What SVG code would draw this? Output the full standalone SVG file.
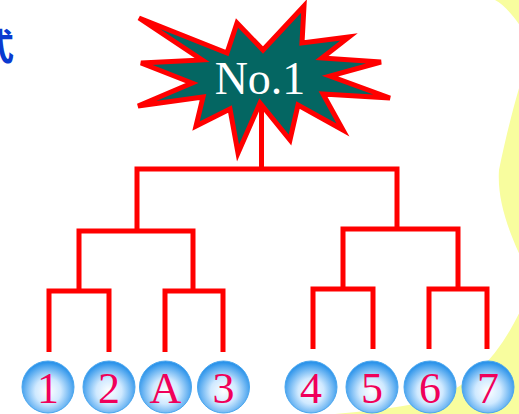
<svg xmlns="http://www.w3.org/2000/svg" width="519" height="414" viewBox="0 0 519 414">
<defs>
<radialGradient id="ball" cx="50%" cy="58%" r="55%">
<stop offset="0" stop-color="#ffffff"/>
<stop offset="0.45" stop-color="#cfe9ff"/>
<stop offset="1" stop-color="#2b93ea"/>
</radialGradient>
<style>
.wire{fill:none;stroke:#ff0000;stroke-width:5;stroke-linejoin:miter;stroke-linecap:butt}
.ball{fill:url(#ball);stroke:#4aa6ee;stroke-width:1}
.lbl{font-family:"Liberation Serif","Times New Roman",serif;font-size:44px;fill:#f0005a;text-anchor:middle}
</style>
</defs>
<rect x="0" y="0" width="519" height="414" fill="#f8fd9e"/>
<path d="M0,0 H495 C505,5 515,18 523,30 L523,75 C515,100 505,140 499,170 C497,200 508,230 523,262 L523,305 C505,345 475,388 425,402 C375,412 330,414 290,418 L0,418 Z" fill="#ffffff"/>
<text x="-22" y="60" font-family="'Noto Sans CJK SC',sans-serif" font-size="36" font-weight="bold" fill="#0a3ad0">式</text>
<g id="connectors">
<path class="wire" d="M261.5,100 V169"/>
<path class="wire" d="M137,231 V169 H397 V229"/>
<path class="wire" d="M79,291 V231 H193 V291"/>
<path class="wire" d="M343,289 V229 H458 V289"/>
<path class="wire" d="M49,352 V291 H109 V352"/>
<path class="wire" d="M165,352 V291 H223 V352"/>
<path class="wire" d="M313,349 V289 H373 V349"/>
<path class="wire" d="M429,349 V289 H487 V349"/>
</g>
<g id="star">
<polygon points="139,18 227,53 237,23 263,50 304,6 302,43 349,37 322,58 381,62 330,76 390,98 323,94 343,130 298,105 290,140 260,103 238,153 230,109 196,126 203,97 138,106 192,83 141,63 202,60" fill="#046662" stroke="#ff0000" stroke-width="5" stroke-linejoin="miter"/>
<text x="260" y="94" font-family="'Liberation Serif','Times New Roman',serif" font-size="46" fill="#ffffff" text-anchor="middle">No.1</text>
</g>
<g id="n1"><circle class="ball" cx="48" cy="387" r="26"/><text class="lbl" x="48" y="403">1</text></g>
<g id="n2"><circle class="ball" cx="109" cy="387" r="26"/><text class="lbl" x="109" y="403">2</text></g>
<g id="nA"><circle class="ball" cx="165.5" cy="387" r="26"/><text class="lbl" x="165.5" y="403">A</text></g>
<g id="n3"><circle class="ball" cx="223.5" cy="387" r="26"/><text class="lbl" x="223.5" y="403">3</text></g>
<g id="n4"><circle class="ball" cx="311" cy="387" r="26"/><text class="lbl" x="311" y="403">4</text></g>
<g id="n5"><circle class="ball" cx="372" cy="387" r="26"/><text class="lbl" x="372" y="403">5</text></g>
<g id="n6"><circle class="ball" cx="430" cy="387" r="26"/><text class="lbl" x="430" y="403">6</text></g>
<g id="n7"><circle class="ball" cx="488" cy="387" r="26"/><text class="lbl" x="488" y="403">7</text></g>
</svg>
